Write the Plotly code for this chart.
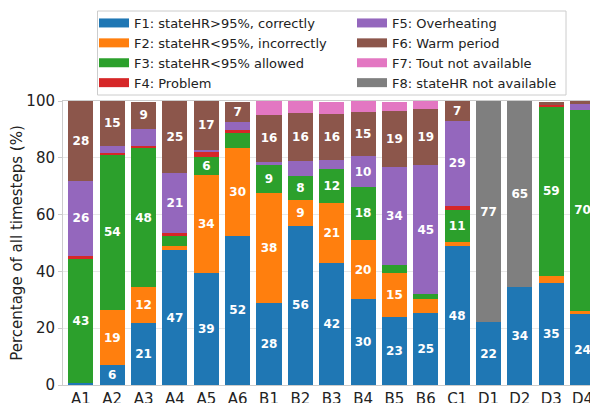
import plotly.graph_objects as go

categories = ["A1", "A2", "A3", "A4", "A5", "A6", "B1", "B2", "B3", "B4", "B5", "B6",
              "C1", "D1", "D2", "D3", "D4"]

series_names = [
    "F1: stateHR>95%, correctly",
    "F2: stateHR<95%, incorrectly",
    "F3: stateHR<95% allowed",
    "F4: Problem",
    "F5: Overheating",
    "F6: Warm period",
    "F7: Tout not available",
    "F8: stateHR not available",
]

f1 = [0.8, 6.9, 21.7, 47.5, 39.3, 52.5, 28.8, 56.1, 42.9, 30.2, 23.8, 25.5, 48.9, 22.1, 34.4, 35.8, 24.9]
f2 = [0.0, 19.5, 12.7, 1.5, 34.6, 30.9, 38.9, 9.0, 21.2, 20.8, 15.8, 4.9, 1.4, 0.0, 0.0, 2.7, 1.2]
f3 = [43.4, 54.6, 48.9, 3.5, 6.5, 5.6, 9.6, 8.6, 12.1, 18.8, 2.8, 1.5, 11.2, 0.0, 0.0, 59.6, 70.8]
f4 = [1.2, 0.7, 0.8, 0.9, 1.6, 0.7, 0.0, 0.0, 0.0, 0.0, 0.0, 0.0, 1.6, 0.0, 0.0, 0.5, 0.0]
f5 = [26.6, 2.5, 6.0, 21.1, 0.9, 2.8, 1.2, 5.3, 2.9, 10.7, 34.3, 45.5, 29.8, 0.0, 0.0, 0.0, 2.2]
f6 = [28.0, 15.8, 9.6, 25.4, 17.0, 7.3, 16.7, 16.8, 16.4, 15.8, 19.9, 19.7, 7.2, 0.0, 0.0, 1.2, 0.9]
f7 = [0.0, 0.0, 0.0, 0.0, 0.0, 0.0, 4.7, 4.3, 4.3, 3.8, 3.2, 2.8, 0.0, 0.0, 0.0, 0.0, 0.0]
f8 = [0.0, 0.0, 0.0, 0.0, 0.0, 0.0, 0.0, 0.0, 0.0, 0.0, 0.0, 0.0, 0.0, 77.9, 65.6, 0.0, 0.0]

series_values = [f1, f2, f3, f4, f5, f6, f7, f8]
colors = ["#1f77b4", "#ff7f0e", "#2ca02c", "#d62728", "#9467bd", "#8c564b", "#e377c2", "#7f7f7f"]
legend_ids = ["legend", "legend", "legend", "legend", "legend2", "legend2", "legend2", "legend2"]
label_threshold = 6.3

y_ticks = [0, 20, 40, 60, 80, 100]

FONT = "DejaVu Sans"

# The page body has an 8px margin, so the figure is drawn at window offset (8, 8).
OFF = 8
FIG_W, FIG_H = 598 - OFF, 403 - OFF
M_L, M_R, M_T, M_B = 63 - OFF, 1, 0, 18
PAPER_H = FIG_H - M_T - M_B
PAPER_W = FIG_W - M_L - M_R


def py(win_y):
    return (PAPER_H - (win_y - OFF)) / PAPER_H


def px(win_x):
    return (win_x - OFF - M_L) / PAPER_W


fig = go.Figure()
for name, vals, col in zip(series_names, series_values, colors):
    texts = [str(int(v)) if v >= label_threshold else "" for v in vals]
    fig.add_trace(go.Bar(
        x=categories, y=vals, name=name,
        marker=dict(color=col, line=dict(width=0)),
        text=texts, textposition="inside", insidetextanchor="middle",
        textangle=0,
        textfont=dict(family=FONT, size=12, color="white", weight="bold"),
        showlegend=False,
        hoverinfo="skip",
    ))

# legend-only entries drawn as wide swatches
for name, col, lg in zip(series_names, colors, legend_ids):
    fig.add_trace(go.Scatter(
        x=[None], y=[None], name=name, mode="lines",
        line=dict(color=col, width=9),
        legend=lg, showlegend=True, hoverinfo="skip",
    ))

legend_common = dict(
    orientation="v",
    yref="paper", y=1.0, yanchor="top",
    xref="paper", xanchor="left",
    font=dict(family=FONT, size=13, color="#222"),
    bgcolor="rgba(0,0,0,0)",
    borderwidth=0,
    traceorder="normal",
    tracegroupgap=0,
    itemwidth=30,
)

fig.update_layout(
    barmode="stack",
    bargap=0.2,
    width=FIG_W, height=FIG_H,
    margin=dict(l=M_L, r=M_R, t=M_T, b=M_B),
    paper_bgcolor="white",
    plot_bgcolor="white",
    font=dict(family=FONT, size=15, color="#222"),
    uniformtext=dict(minsize=12, mode="show"),
    showlegend=True,
    legend=dict(legend_common, x=px(94)),
    legend2=dict(legend_common, x=px(352)),
    shapes=[dict(
        type="rect", xref="paper", yref="paper",
        x0=px(97.5), x1=px(566),
        y0=py(95), y1=py(11),
        line=dict(color="#cccccc", width=1), fillcolor="rgba(0,0,0,0)", layer="below",
    )],
    xaxis=dict(
        range=[-0.57, 16.46],
        showline=True, linecolor="#cccccc", linewidth=1, mirror=True,
        ticks="", tickfont=dict(family=FONT, size=15, color="#222"),
        showgrid=False, automargin=False,
    ),
    yaxis=dict(
        domain=[0, py(101)],
        range=[0, 100], tickvals=y_ticks,
        showline=True, linecolor="#cccccc", linewidth=1, mirror=True,
        showgrid=True, gridcolor="#e8e8e8", gridwidth=1,
        ticks="outside", ticklen=4, tickcolor="#cccccc",
        tickfont=dict(family=FONT, size=15, color="#222"),
        title=dict(text="Percentage of all timesteps (%)", font=dict(family=FONT, size=15, color="#222"), standoff=1),
        zeroline=False, automargin=False,
    ),
)

fig.write_html("out.html")
